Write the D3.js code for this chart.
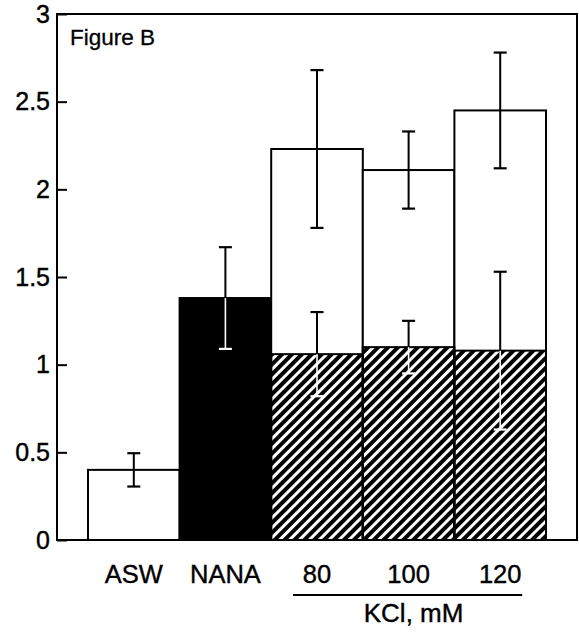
<!DOCTYPE html>
<html>
<head>
<meta charset="utf-8">
<script src="https://cdn.jsdelivr.net/npm/d3@7"></script>
<style>
  body { margin: 0; background: #fff; }
  text { font-family: "Liberation Sans", Arial, Helvetica, sans-serif; fill: #000; }
</style>
</head>
<body>
<div id="chart"></div>
<script>
// values
var categories = ["ASW", "NANA", "80", "100", "120"];
var barKind = ["open", "solid", "stack", "stack", "stack"];
var totalValues = [0.40, 1.38, 2.23, 2.11, 2.45];
var totalErr = [0.095, 0.29, 0.45, 0.22, 0.33];
var hatchValues = [null, null, 1.06, 1.10, 1.08];
var hatchErr = [null, null, 0.24, 0.15, 0.45];
var yTicks = [0, 0.5, 1, 1.5, 2, 2.5, 3];
var yTickLabels = ["0", "0.5", "1", "1.5", "2", "2.5", "3"];
var groupLabel = "KCl, mM";
var groupMembers = ["80", "100", "120"];

var width = 579;
var height = 640;
var frame = { left: 57, right: 577, top: 14, bottom: 540 };

var svg = d3.select("#chart")
    .append("svg")
    .attr("width", width)
    .attr("height", height);

// hatch pattern
var defs = svg.append("defs");
defs.append("pattern")
    .attr("id", "hatch")
    .attr("patternUnits", "userSpaceOnUse")
    .attr("width", 7)
    .attr("height", 7)
    .attr("patternTransform", "rotate(45)")
    .append("rect")
    .attr("width", 4)
    .attr("height", 7)
    .attr("fill", "#000");

var xScale = d3.scaleBand()
    .domain(categories)
    .range([88, 546])
    .padding(0);

var yScale = d3.scaleLinear()
    .domain([0, 3])
    .range([frame.bottom, frame.top]);

var data = categories.map(function(c, i) {
    return { cat: c, kind: barKind[i], total: totalValues[i], err: totalErr[i],
             hatch: hatchValues[i], herr: hatchErr[i] };
});

// bars
var bars = svg.append("g");
bars.selectAll("rect.total")
    .data(data)
    .enter()
    .append("rect")
    .attr("class", "total")
    .attr("x", function(d) { return xScale(d.cat); })
    .attr("y", function(d) { return yScale(d.total); })
    .attr("width", xScale.bandwidth())
    .attr("height", function(d) { return yScale(0) - yScale(d.total); })
    .attr("fill", function(d) { return d.kind == "solid" ? "#000" : "#fff"; })
    .attr("stroke", "#000")
    .attr("stroke-width", 2);

var stacked = data.filter(function(d) { return d.hatch != null; });

bars.selectAll("rect.hatch")
    .data(stacked)
    .enter()
    .append("rect")
    .attr("class", "hatch")
    .attr("x", function(d) { return xScale(d.cat); })
    .attr("y", function(d) { return yScale(d.hatch); })
    .attr("width", xScale.bandwidth())
    .attr("height", function(d) { return yScale(0) - yScale(d.hatch); })
    .attr("fill", "url(#hatch)")
    .attr("stroke", "#000")
    .attr("stroke-width", 2);

// error bars: part above the bar top is black, part inside a dark fill is white
function errorBar(g, cx, value, err, innerColor) {
    var cap = 6.5;
    var yTop = yScale(value + err), yMid = yScale(value), yBot = yScale(value - err);
    g.append("line").attr("x1", cx).attr("x2", cx).attr("y1", yTop).attr("y2", yMid)
        .attr("stroke", "#000").attr("stroke-width", 2);
    g.append("line").attr("x1", cx - cap).attr("x2", cx + cap).attr("y1", yTop).attr("y2", yTop)
        .attr("stroke", "#000").attr("stroke-width", 2.2);
    g.append("line").attr("x1", cx).attr("x2", cx).attr("y1", yMid).attr("y2", yBot)
        .attr("stroke", innerColor).attr("stroke-width", innerColor == "#fff" ? 1.6 : 2);
    g.append("line").attr("x1", cx - cap).attr("x2", cx + cap).attr("y1", yBot).attr("y2", yBot)
        .attr("stroke", innerColor).attr("stroke-width", 2.2);
}

var errs = svg.append("g");
data.forEach(function(d) {
    var cx = xScale(d.cat) + xScale.bandwidth() / 2;
    errorBar(errs, cx, d.total, d.err, d.kind == "solid" ? "#fff" : "#000");
    if (d.hatch != null) {
        errorBar(errs, cx, d.hatch, d.herr, "#fff");
    }
});

// frame
svg.append("rect")
    .attr("x", frame.left)
    .attr("y", frame.top)
    .attr("width", frame.right - frame.left)
    .attr("height", frame.bottom - frame.top)
    .attr("fill", "none")
    .attr("stroke", "#000")
    .attr("stroke-width", 2);

// y axis, ticks pointing inwards
var yAxis = svg.append("g")
    .attr("transform", "translate(" + frame.left + ",0)")
    .call(d3.axisLeft(yScale)
        .tickValues(yTicks)
        .tickFormat(function(d, i) { return yTickLabels[i]; })
        .tickSizeInner(-10)
        .tickSizeOuter(0)
        .tickPadding(7));
yAxis.select(".domain").remove();
yAxis.selectAll("line").attr("stroke", "#000").attr("stroke-width", 2);
yAxis.selectAll("text")
    .attr("font-size", 25)
    .attr("fill", "#000")
    .attr("stroke", "#000")
    .attr("stroke-width", 0.4)
    .style("font-family", "'Liberation Sans', Arial, sans-serif");

// category labels
svg.selectAll("text.cat")
    .data(categories)
    .enter()
    .append("text")
    .attr("class", "cat")
    .attr("x", function(d) { return xScale(d) + xScale.bandwidth() / 2; })
    .attr("y", 583)
    .attr("text-anchor", "middle")
    .attr("font-size", 25.5)
    .attr("stroke", "#000")
    .attr("stroke-width", 0.4)
    .text(function(d) { return d; });

// KCl group bracket
var gx0 = xScale(groupMembers[0]) + xScale.bandwidth() / 2 - 24;
var gx1 = xScale(groupMembers[groupMembers.length - 1]) + xScale.bandwidth() / 2 + 22;
svg.append("line")
    .attr("x1", gx0).attr("x2", gx1)
    .attr("y1", 595).attr("y2", 595)
    .attr("stroke", "#000").attr("stroke-width", 1.8);
svg.append("text")
    .attr("x", (gx0 + gx1) / 2 + 6)
    .attr("y", 622)
    .attr("text-anchor", "middle")
    .attr("font-size", 26)
    .attr("stroke", "#000")
    .attr("stroke-width", 0.4)
    .text(groupLabel);

svg.append("text")
    .attr("x", 70)
    .attr("y", 45)
    .attr("font-size", 22.5)
    .attr("stroke", "#000")
    .attr("stroke-width", 0.3)
    .text("Figure B");
</script>
</body>
</html>
